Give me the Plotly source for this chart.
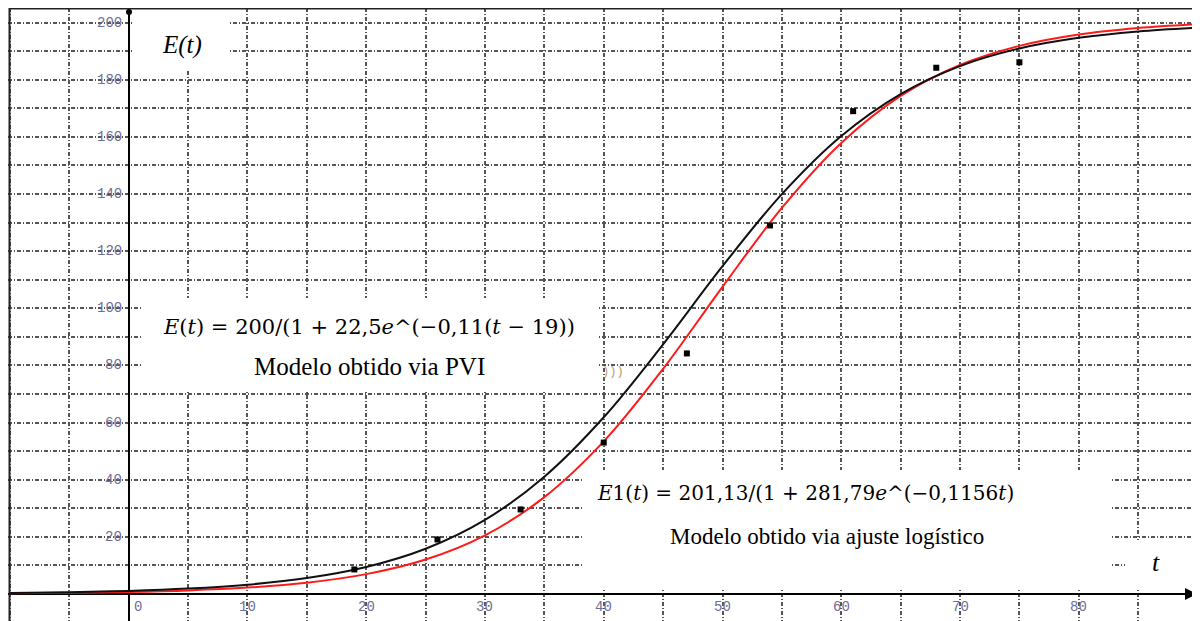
import plotly.graph_objects as go

# ---------------- data ----------------
t_obs = [19, 26, 33, 40, 47, 54, 61, 68, 75]
E_obs = [8.6, 19.1, 29.6, 53.0, 84.2, 129.0, 169.0, 184.2, 186.1]

t_model = [-10, -5, 0, 5, 10, 15, 20, 25, 30, 35, 40, 45, 50, 55, 60, 65, 70, 75, 80, 85, 90]
E_pvi = [0.37, 0.63, 1.09, 1.89, 3.25, 5.57, 9.45, 15.83, 25.94, 41.06, 61.86, 87.39,
         114.72, 139.97, 160.32, 175.0, 184.78, 190.93, 194.66, 196.89, 198.19]
E_logist = [0.22, 0.40, 0.71, 1.26, 2.24, 3.96, 6.96, 12.07, 20.55, 33.92, 53.42, 78.83,
            107.53, 135.14, 157.87, 174.34, 185.16, 191.85, 195.82, 198.11, 199.43]

x_ticks = [0, 10, 20, 30, 40, 50, 60, 70, 80]
y_ticks = [20, 40, 60, 80, 100, 120, 140, 160, 180, 200]

W, H = 1200, 621
OFF = 8                          # page body margin: figure starts 8px from screen edge
X0_PX, X_SCALE = 128.7, 11.876   # screen pixel of t=0, pixels per unit
Y0_PX, Y_SCALE = 594.0, 2.857


def px2x(px):
    return (px - X0_PX) / X_SCALE


def py2y(py):
    return (Y0_PX - py) / Y_SCALE


def pxp(px):
    return (px - OFF) / W


def pyp(py):
    return 1 - (py - OFF) / H


fig = go.Figure()

fig.add_trace(go.Scatter(x=t_model, y=E_logist, mode="lines", line=dict(color="#ff1a1a", width=2, shape="spline"),
                         showlegend=False, hoverinfo="skip"))
fig.add_trace(go.Scatter(x=t_model, y=E_pvi, mode="lines", line=dict(color="#111111", width=2, shape="spline"),
                         showlegend=False, hoverinfo="skip"))
fig.add_trace(go.Scatter(x=t_obs, y=E_obs, mode="markers", marker=dict(color="#000", size=6, symbol="square"),
                         showlegend=False))

shapes = []
# white boxes covering grid
for (x0, y0, x1, y1) in [(132, 8, 228, 70), (142, 298, 598, 390), (583, 470, 1112, 590), (1125, 540, 1194, 590)]:
    shapes.append(dict(type="rect", xref="x", yref="y", x0=px2x(x0), x1=px2x(x1), y0=py2y(y1), y1=py2y(y0),
                       fillcolor="white", line=dict(width=0), layer="between"))
# frame
for (x0, y0, x1, y1) in [(9.5, 8, 9.5, 640), (9, 8.5, 1196, 8.5), (1196, 8, 1196, 640)]:
    shapes.append(dict(type="line", xref="paper", yref="paper", x0=pxp(x0), x1=pxp(x1), y0=pyp(y0), y1=pyp(y1),
                       line=dict(color="#222", width=2), layer="above"))
# dot at top of y axis
shapes.append(dict(type="circle", xref="paper", yref="paper", x0=pxp(126), x1=pxp(132), y0=pyp(15), y1=pyp(9),
                   fillcolor="#000", line=dict(width=0)))

annotations = []
tick_font = dict(family="Liberation Mono", size=14, color="#6e6e96")
for v in y_ticks:
    annotations.append(dict(x=px2x(124), y=v, text=str(v), showarrow=False, xanchor="right", yanchor="middle",
                            font=tick_font))
for v in x_ticks:
    if v == 0:
        annotations.append(dict(x=px2x(132), y=py2y(607), text=str(v), showarrow=False, xanchor="left",
                                yanchor="middle", font=tick_font))
    else:
        annotations.append(dict(x=v, y=py2y(607), text=str(v), showarrow=False, xanchor="center",
                                yanchor="middle", font=tick_font))

serif = "Liberation Serif"
math = "DejaVu Serif"
annotations += [
    dict(x=px2x(182), y=py2y(45), text="<i>E(t)</i>", showarrow=False, font=dict(family=serif, size=25, color="#000")),
    dict(x=px2x(369), y=py2y(327),
         text="<i>E</i>(<i>t</i>) = 200/(1 + 22,5<i>e</i>^(−0,11(<i>t</i> − 19))",
         showarrow=False, font=dict(family=math, size=21, color="#000")),
    dict(x=px2x(369), y=py2y(366), text="Modelo obtido via PVI", showarrow=False,
         font=dict(family=serif, size=25, color="#000")),
    dict(x=px2x(805), y=py2y(493),
         text="<i>E</i>1(<i>t</i>) = 201,13/(1 + 281,79<i>e</i>^(−0,1156<i>t</i>)",
         showarrow=False, font=dict(family=math, size=20, color="#000")),
    dict(x=px2x(827), y=py2y(536), text="Modelo obtido via ajuste logístico", showarrow=False,
         font=dict(family=serif, size=23, color="#000")),
    dict(x=px2x(1156), y=py2y(562), text="<i>t</i>", showarrow=False, font=dict(family=serif, size=26, color="#000")),
    dict(x=px2x(613), y=py2y(372), text=")))", showarrow=False, font=dict(family="Liberation Mono", size=12, color="#b89a70")),
    dict(x=px2x(1197), y=0, ax=-12, ay=0, text="", showarrow=True, arrowhead=2, arrowsize=1.2, arrowwidth=2,
         arrowcolor="#000"),
]

grid = dict(showgrid=True, gridcolor="#555555", gridwidth=1.5, griddash="4px,2px,1px,2px", zeroline=True,
            zerolinecolor="#000", zerolinewidth=2, showticklabels=False, ticks="", showline=False)

fig.update_layout(
    width=W, height=H, margin=dict(l=0, r=0, t=0, b=0, autoexpand=False),
    paper_bgcolor="white", plot_bgcolor="white",
    xaxis=dict(range=[px2x(OFF), px2x(W + OFF)], dtick=5, tick0=0, **grid),
    yaxis=dict(range=[py2y(H + OFF), py2y(OFF)], dtick=10, tick0=0, **grid),
    shapes=shapes, annotations=annotations, showlegend=False,
)

fig.write_html("out.html")
